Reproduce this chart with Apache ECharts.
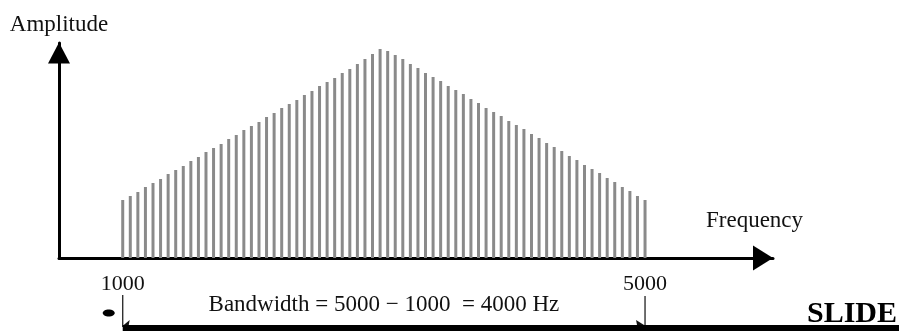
<!DOCTYPE html>
<html>
<head>
<meta charset="utf-8">
<script src="https://cdn.jsdelivr.net/npm/echarts@6/dist/echarts.min.js"></script>
<style>
  html, body { margin: 0; padding: 0; background: #ffffff; }
  #chart { width: 899px; height: 331px; }
</style>
</head>
<body>
<div id="chart"></div>
<script>
// Amplitude of each spectral line, from the lowest to the highest frequency
const amplitudes = [
  58, 62, 66, 71, 75, 79, 84, 88, 92, 97,
  101, 106, 110, 114, 119, 123, 128, 132, 136, 141,
  145, 150, 154, 158, 163, 167, 172, 176, 180, 185,
  189, 194, 199, 204, 209, 207, 203, 199, 194, 190,
  185, 181, 177, 172, 168, 164, 159, 155, 150, 146,
  142, 137, 133, 129, 124, 120, 115, 111, 107, 102,
  98, 93, 89, 85, 80, 76, 71, 67, 62, 58
];

// Band edges (Hz) and the frequencies labelled on the axis
const bandStart = 1000;
const bandEnd = 5000;
const tickValues = [1000, 5000];

const xTitle = 'Frequency';
const yTitle = 'Amplitude';
const bandwidthText = 'Bandwidth = 5000 \u2212 1000  = 4000 Hz';
const footerText = 'SLIDE';

// Lines are evenly spaced across the band
const frequencies = amplitudes.map((_, i) =>
  bandStart + i * (bandEnd - bandStart) / (amplitudes.length - 1));
const lineData = frequencies.map((f, i) => [f, amplitudes[i]]);

const serif = "'Liberation Serif', 'Times New Roman', 'DejaVu Serif', serif";
const ink = '#111111';

const chart = echarts.init(document.getElementById('chart'), null, { renderer: 'canvas' });

chart.setOption({
  animation: false,
  backgroundColor: '#ffffff',
  grid: { left: 59, right: 126, top: 43, bottom: 73, containLabel: false, outerBoundsMode: 'none' },
  xAxis: {
    type: 'value',
    min: 512,
    max: 5980,
    name: xTitle,
    nameLocation: 'end',
    nameGap: -67,
    nameTextStyle: {
      fontFamily: serif, fontSize: 23, color: ink,
      align: 'left', verticalAlign: 'bottom', padding: [0, 0, 26, 0]
    },
    axisLine: {
      show: true,
      onZero: false,
      lineStyle: { color: '#000000', width: 3 },
      symbol: ['none', 'triangle'],
      symbolSize: [25, 20],
      symbolOffset: [0, -10]
    },
    axisTick: { show: false },
    splitLine: { show: false },
    axisLabel: {
      show: true,
      customValues: tickValues,
      formatter: (v) => String(v),
      margin: 15,
      fontFamily: serif, fontSize: 22, color: ink
    }
  },
  yAxis: {
    type: 'value',
    min: 0,
    max: 215,
    name: yTitle,
    nameLocation: 'end',
    nameGap: 7,
    nameTextStyle: { fontFamily: serif, fontSize: 23, color: ink },
    axisLine: {
      show: true,
      onZero: false,
      lineStyle: { color: '#000000', width: 3 },
      symbol: ['none', 'triangle'],
      symbolSize: [22, 21],
      symbolOffset: [0, -10]
    },
    axisTick: { show: false },
    splitLine: { show: false },
    axisLabel: { show: false }
  },
  series: [{
    type: 'bar',
    data: lineData,
    barWidth: 3,
    silent: true,
    clip: false,
    itemStyle: { color: '#8a8a8a' }
  }]
});

// Bandwidth dimension marks, placed from the band edge frequencies
const xa = chart.convertToPixel({ xAxisIndex: 0 }, bandStart);
const xb = chart.convertToPixel({ xAxisIndex: 0 }, bandEnd);

chart.setOption({
  graphic: [
    { type: 'line', shape: { x1: xa, y1: 295, x2: xa, y2: 327 }, style: { stroke: '#222', lineWidth: 1.3 } },
    { type: 'line', shape: { x1: xb, y1: 296, x2: xb, y2: 327 }, style: { stroke: '#222', lineWidth: 1.3 } },
    { type: 'polygon', shape: { points: [[xa + 1, 325], [xa + 7, 320], [xa + 6, 325]] }, style: { fill: '#111' } },
    { type: 'polygon', shape: { points: [[xb - 1, 325], [xb - 9, 320], [xb - 8, 325]] }, style: { fill: '#111' } },
    { type: 'rect', shape: { x: xa, y: 325, width: 899 - xa, height: 6 }, style: { fill: '#000' } },
    { type: 'ellipse', shape: { cx: xa - 14, cy: 313, rx: 6, ry: 3.5 }, style: { fill: '#000' } },
    {
      type: 'text', x: (xa + xb) / 2, y: 305,
      style: { text: bandwidthText, font: '23px ' + serif, fill: ink, align: 'center', verticalAlign: 'middle' }
    },
    {
      type: 'text', x: 897, y: 314,
      style: { text: footerText, font: 'bold 30px ' + serif, fill: '#000', align: 'right', verticalAlign: 'middle' }
    }
  ]
});
</script>
</body>
</html>
